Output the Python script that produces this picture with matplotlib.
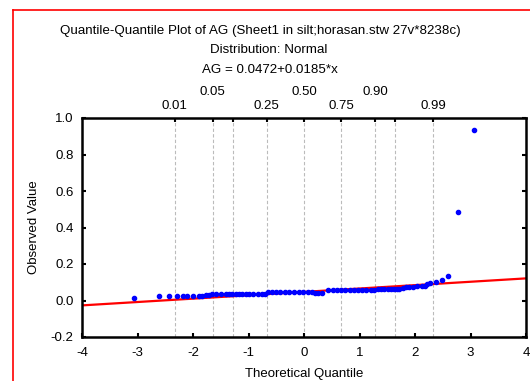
import matplotlib
matplotlib.use("Agg")
import matplotlib.pyplot as plt
from matplotlib.lines import Line2D

plt.rcParams['font.family'] = ['Liberation Sans', 'DejaVu Sans']
plt.rcParams['axes.unicode_minus'] = False

# Data
theoretical = [-3.07, -2.61, -2.43, -2.28, -2.175, -2.10, -1.995, -1.90, -1.83, -1.77,
               -1.71, -1.65, -1.59, -1.50, -1.41, -1.35, -1.29, -1.23, -1.17, -1.11,
               -1.05, -0.99, -0.91, -0.82, -0.76, -0.70, -0.64, -0.58, -0.50, -0.43,
               -0.34, -0.27, -0.18, -0.09, -0.01, 0.07, 0.14, 0.20, 0.26, 0.32,
               0.44, 0.52, 0.59, 0.67, 0.74, 0.82, 0.90, 0.97, 1.05, 1.12,
               1.20, 1.27, 1.33, 1.39, 1.45, 1.51, 1.57, 1.63, 1.68, 1.72,
               1.78, 1.84, 1.90, 1.96, 2.03, 2.12, 2.18, 2.21, 2.27, 2.38,
               2.49, 2.60, 2.78, 3.07]
observed = [0.012, 0.025, 0.025, 0.025, 0.025, 0.025, 0.025, 0.025, 0.027, 0.028,
            0.030, 0.036, 0.036, 0.036, 0.036, 0.036, 0.036, 0.036, 0.036, 0.036,
            0.036, 0.036, 0.036, 0.036, 0.036, 0.034, 0.045, 0.045, 0.045, 0.045,
            0.045, 0.045, 0.045, 0.045, 0.045, 0.045, 0.045, 0.042, 0.042, 0.042,
            0.055, 0.055, 0.055, 0.055, 0.055, 0.055, 0.055, 0.055, 0.055, 0.055,
            0.055, 0.058, 0.062, 0.062, 0.062, 0.062, 0.062, 0.062, 0.062, 0.065,
            0.068, 0.072, 0.076, 0.076, 0.080, 0.080, 0.080, 0.090, 0.094, 0.103,
            0.112, 0.136, 0.485, 0.936]

intercept = 0.0472
slope = 0.0185
line_x = [-4, 4]

prob_labels = ["0.01", "0.05", "0.10", "0.25", "0.50", "0.75", "0.90", "0.95", "0.99"]
prob_z = [-2.326, -1.645, -1.282, -0.674, 0.0, 0.674, 1.282, 1.645, 2.326]
prob_shown = ["0.01", "0.05", "0.25", "0.50", "0.75", "0.90", "0.99"]
prob_upper = ["0.05", "0.50", "0.90"]

xticks = [-4, -3, -2, -1, 0, 1, 2, 3, 4]
yticks = [-0.2, 0.0, 0.2, 0.4, 0.6, 0.8, 1.0]

title_lines = ["Quantile-Quantile Plot of AG (Sheet1 in silt;horasan.stw 27v*8238c)",
               "Distribution: Normal",
               "AG = 0.0472+0.0185*x"]

W, H = 530, 381
fig = plt.figure(figsize=(W / 100, H / 100), dpi=100)
ax = fig.add_axes([82 / W, 1 - 337 / H, (526 - 82) / W, (337 - 118) / H])

fs = 9.5
fst = 9.6
for z in prob_z:
    ax.axvline(z, color='#bbbbbb', lw=0.8, ls=(0, (3, 2)), zorder=1)

ax.plot(line_x, [intercept + slope * v for v in line_x], color='red', lw=1.6, zorder=2)
ax.plot(theoretical, observed, 'o', color='blue', ms=3.0, mec='blue', zorder=3)

ax.set_xlim(-4, 4)
ax.set_ylim(-0.2, 1.0)
ax.set_xticks(xticks)
ax.set_xticklabels([str(v) for v in xticks], fontsize=fs)
ax.set_yticks(yticks)
ax.set_yticklabels([f"{v:.1f}" for v in yticks], fontsize=fs)
ax.tick_params(direction='in', length=3, width=1.5, right=True)
ax.tick_params(axis='x', pad=7)
ax.tick_params(axis='y', pad=6)
for s in ax.spines.values():
    s.set_linewidth(1.8)
    s.set_color('black')

ax2 = ax.twiny()
ax2.set_xlim(-4, 4)
ax2.set_xticks(prob_z)
ax2.set_xticklabels([])
ax2.tick_params(direction='in', length=3, width=1.5)
for s in ax2.spines.values():
    s.set_visible(False)

for lab, z in zip(prob_labels, prob_z):
    if lab in prob_shown:
        ypix = 92 if lab in prob_upper else 106
        ax.text(z, 1.0 + (118 - ypix) / 182.5, lab, ha='center', va='center', fontsize=fs)

ax.set_xlabel("Theoretical Quantile", fontsize=fs, labelpad=7)
ax.set_ylabel("Observed Value", fontsize=fs, labelpad=8)

title_x = [260, 269, 270]
title_y = [31, 50, 70]
for i, t in enumerate(title_lines):
    fig.text(title_x[i] / W, 1 - title_y[i] / H, t, ha='center', va='center', fontsize=fst)

# red frame
fig.add_artist(Line2D([13 / W, 13 / W], [0, 1 - 10 / H], color='red', lw=1.2, transform=fig.transFigure))
fig.add_artist(Line2D([13 / W, 1], [1 - 10 / H, 1 - 10 / H], color='red', lw=1.2, transform=fig.transFigure))

fig.savefig("out.png", dpi=100)
